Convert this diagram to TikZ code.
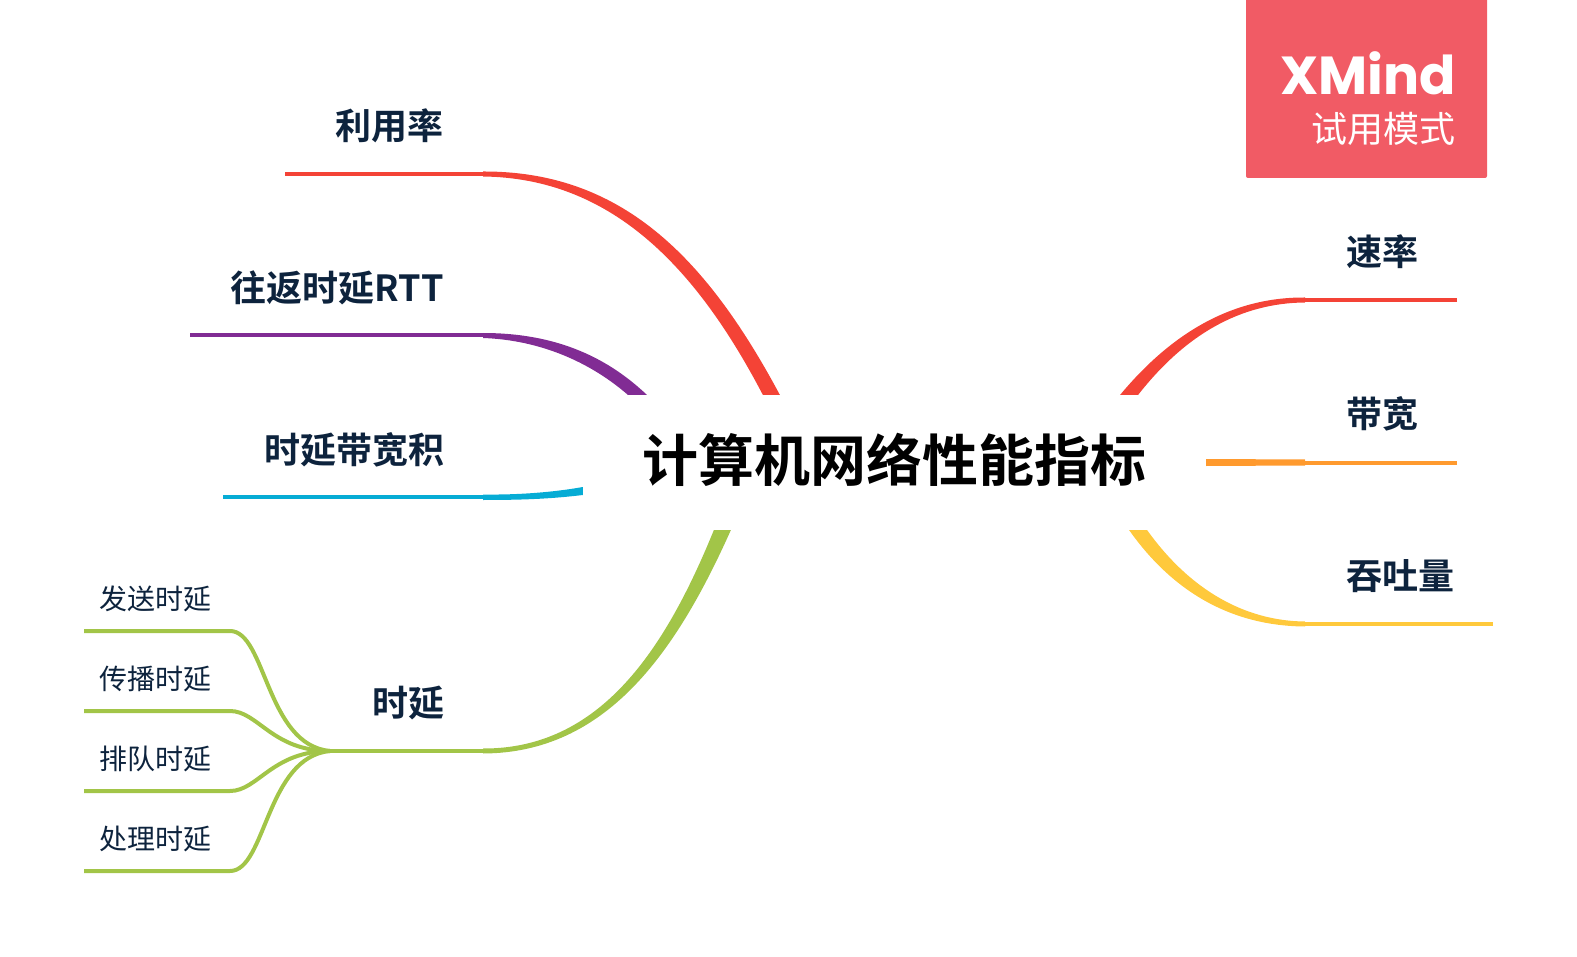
\documentclass[tikz,border=0pt]{standalone}
\usepackage{fontspec}
\usetikzlibrary{backgrounds,calc}
\newfontfamily\cjk[BoldFont={Noto Sans CJK SC Bold}]{Noto Sans CJK SC}
\newfontfamily\logofont{Poppins}
\definecolor{topicred}{HTML}{F44336}
\definecolor{topicpurple}{HTML}{812C94}
\definecolor{topiccyan}{HTML}{06ACD5}
\definecolor{topicgreen}{HTML}{A2C548}
\definecolor{topicorange}{HTML}{FF9A2E}
\definecolor{topicyellow}{HTML}{FFC93C}
\definecolor{labelnavy}{HTML}{0D233D}
\definecolor{badgered}{HTML}{F15B65}
\tikzset{
  topic/.style={inner sep=0pt,text=labelnavy,font=\cjk\bfseries\fontsize{36}{36}\selectfont},
  subtopic/.style={inner sep=0pt,anchor=west,text=labelnavy,font=\cjk\fontsize{28}{28}\selectfont},
  stem/.style={line width=4pt},
  twig/.style={line width=4pt,topicgreen}
}
\begin{document}
\begin{tikzpicture}[x=1pt,y=-1pt]
\useasboundingbox (0,0) rectangle (1577,957);
\node[fill=white,minimum width=623pt,minimum height=135pt,inner sep=0pt,text height=50pt,text depth=12pt,font=\cjk\bfseries\fontsize{56}{56}\selectfont] (root) at (894.5,462.5) {计算机网络性能指标};
% left side
\node[topic,anchor=east] (lyl) at (443.5,126) {利用率};
\node[topic,anchor=east] (rtt) at (444,288) {往返时延RTT};
\node[topic,anchor=east] (sydk) at (445,450) {时延带宽积};
\node[topic,anchor=east] (sy) at (445,703) {时延};
% right side
\node[topic,anchor=west] (sl) at (1346,252) {速率};
\node[topic,anchor=west] (dk) at (1346,414) {带宽};
\node[topic,anchor=west] (ttl) at (1346,576) {吞吐量};
% delay children
\node[subtopic] (fs) at (99.5,599) {发送时延};
\node[subtopic] (cb) at (99.5,679) {传播时延};
\node[subtopic] (pd) at (99.5,759) {排队时延};
\node[subtopic] (cl) at (99.5,839) {处理时延};
\coordinate (lyl tip) at (285,174);
\coordinate (lyl joint) at (483,174);
\coordinate (rtt tip) at (190,335.5);
\coordinate (rtt joint) at (483,335.5);
\coordinate (sydk tip) at (223,497);
\coordinate (sydk joint) at (483,497);
\coordinate (sy tip) at (330,751);
\coordinate (sy joint) at (483,751);
\coordinate (sl tip) at (1457,300);
\coordinate (sl joint) at (1305,300);
\coordinate (dk tip) at (1457,462.5);
\coordinate (dk joint) at (1305,462.5);
\coordinate (ttl tip) at (1493,624);
\coordinate (ttl joint) at (1305,624);
\coordinate (fs tip) at (84,631);
\coordinate (fs bend) at (230,631);
\coordinate (cb tip) at (84,711);
\coordinate (cb bend) at (230,711);
\coordinate (pd tip) at (84,791);
\coordinate (pd bend) at (230,791);
\coordinate (cl tip) at (84,871);
\coordinate (cl bend) at (230,871);
\begin{scope}[on background layer]
\draw[stem,topicred] (lyl tip) -- (lyl joint);
\fill[topicred] ($(lyl joint)+(0,-2.5)$) .. controls (620,171) and (705,255) .. ($(root.north west)+(197,0)$) -- ($(root.north west)+(180,0)$) .. controls (695,265) and (610,178) .. ($(lyl joint)+(0,2.5)$) -- cycle;
\draw[stem,topicpurple] (rtt tip) -- (rtt joint);
\fill[topicpurple] ($(rtt joint)+(0,-2.5)$) .. controls (560,333) and (610,360) .. ($(root.north west)+(64,0)$) -- ($(root.north west)+(45,0)$) .. controls (590,362) and (540,340) .. ($(rtt joint)+(0,2.5)$) -- cycle;
\draw[stem,topiccyan] (sydk tip) -- (sydk joint);
\fill[topiccyan] ($(sydk joint)+(0,-2.5)$) .. controls (520,495) and (555,492) .. (root.west |- 0,487) -- (root.west |- 0,495) .. controls (550,499) and (520,500) .. ($(sydk joint)+(0,3)$) -- cycle;
\draw[stem,topicgreen] (sy tip) -- (sy joint);
\fill[topicgreen] ($(sy joint)+(0,-2.5)$) .. controls (600,749) and (665,650) .. ($(root.south west)+(131,0)$) -- ($(root.south west)+(148,0)$) .. controls (675,655) and (605,753) .. ($(sy joint)+(0,2.5)$) -- cycle;
\draw[stem,topicred] (sl tip) -- (sl joint);
\fill[topicred] ($(sl joint)+(0,-2.5)$) .. controls (1230,297) and (1170,335) .. ($(root.north east)+(-86,0)$) -- ($(root.north east)+(-68,0)$) .. controls (1185,335) and (1240,303) .. ($(sl joint)+(0,2.5)$) -- cycle;
\draw[stem,topicorange] (dk tip) -- (dk joint);
\fill[topicorange] ($(dk joint)+(0,-3)$) -- (root.east |- 0,459) -- (root.east |- 0,466) -- ($(dk joint)+(0,3)$) -- cycle;
\draw[stem,topicyellow] (ttl tip) -- (ttl joint);
\fill[topicyellow] ($(ttl joint)+(0,-2.5)$) .. controls (1245,621) and (1190,590) .. ($(root.south east)+(-59,0)$) -- ($(root.south east)+(-77,0)$) .. controls (1175,595) and (1235,626) .. ($(ttl joint)+(0,2.5)$) -- cycle;
\end{scope}
\draw[twig] (fs tip) -- (fs bend) .. controls (266,631) and (266,745) .. (sy tip);
\draw[twig] (cb tip) -- (cb bend) .. controls (258,711) and (272,751) .. (sy tip);
\draw[twig] (pd tip) -- (pd bend) .. controls (258,791) and (272,751) .. (sy tip);
\draw[twig] (cl tip) -- (cl bend) .. controls (266,871) and (266,757) .. (sy tip);
% trial badge
\fill[badgered,rounded corners=2pt] (1246,-5) rectangle (1487,178);
\node[inner sep=0pt,anchor=east,text=white,font=\logofont\bfseries\fontsize{53.5}{54}\selectfont] (logo) at (1456,73) {XMind};
\node[inner sep=0pt,anchor=east,text=white,font=\cjk\fontsize{36}{36}\selectfont] (mode) at (1455.5,129) {试用模式};
\end{tikzpicture}
\end{document}
